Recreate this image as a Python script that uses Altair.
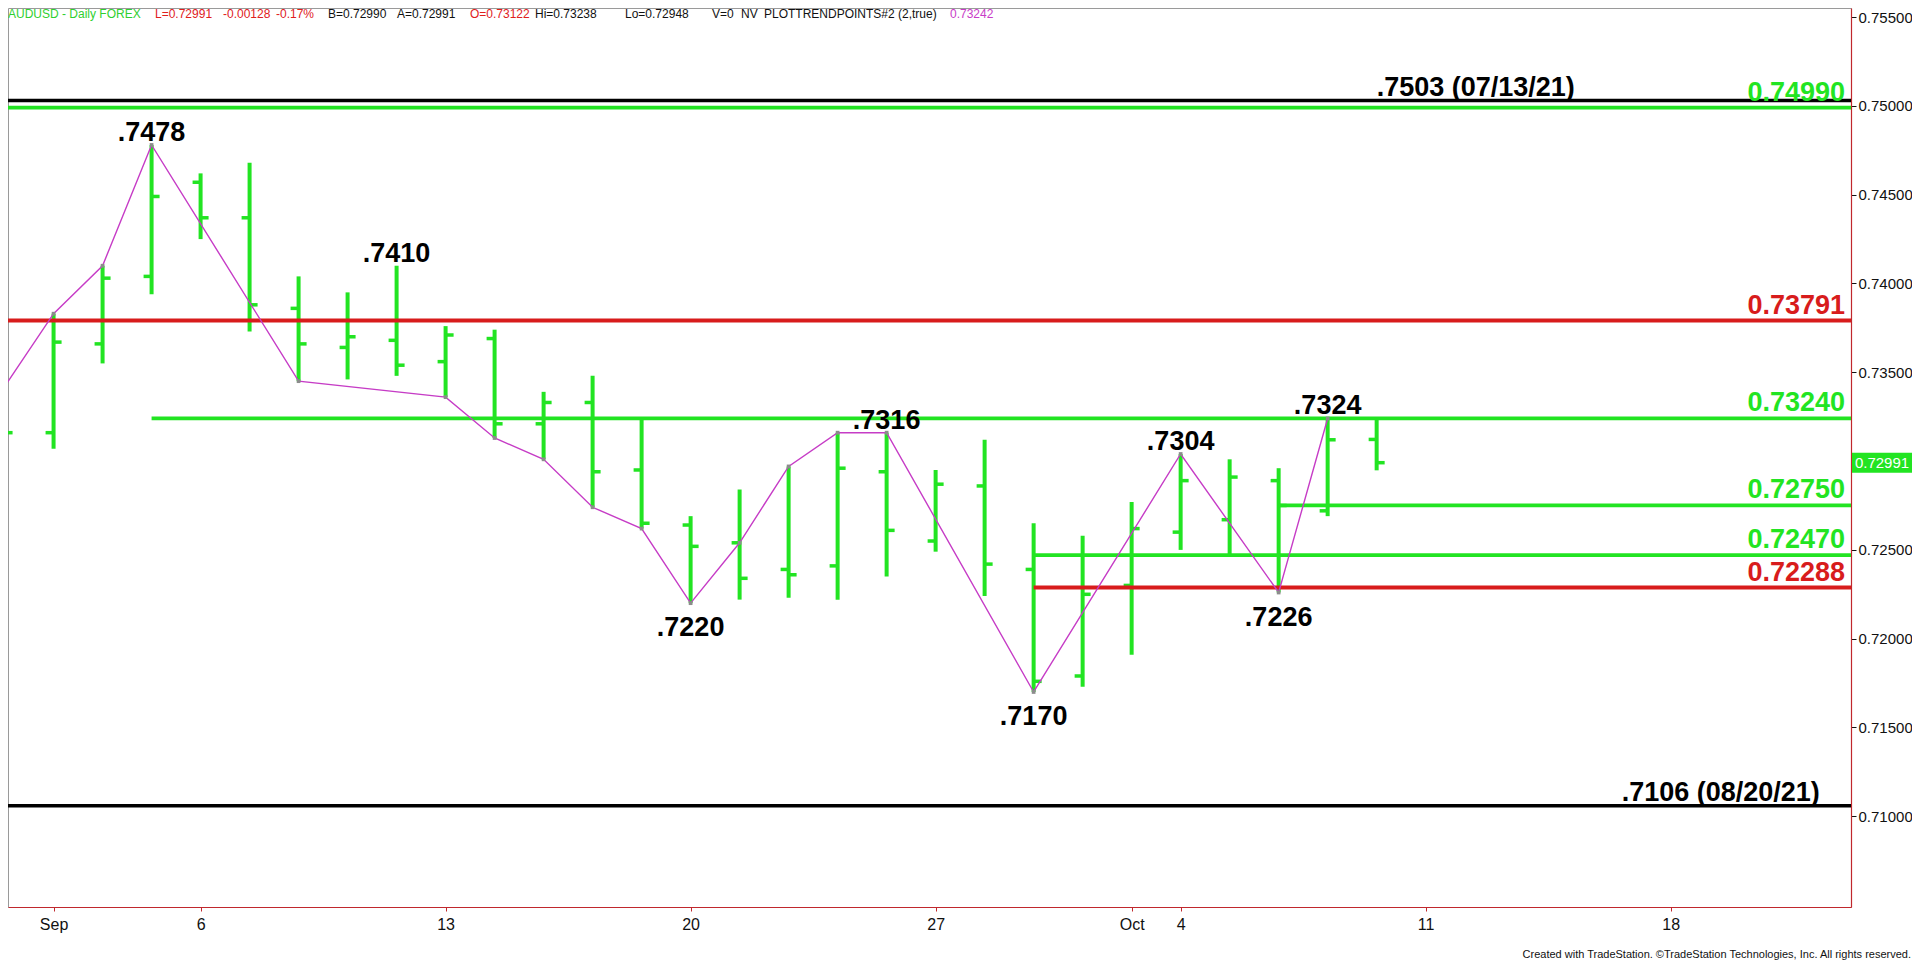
import altair as alt
import pandas as pd
import numpy as np

# ---------------- data ----------------
dates = ["2021-08-31", "2021-09-01", "2021-09-02", "2021-09-03", "2021-09-06", "2021-09-07",
         "2021-09-08", "2021-09-09", "2021-09-10", "2021-09-13", "2021-09-14", "2021-09-15",
         "2021-09-16", "2021-09-17", "2021-09-20", "2021-09-21", "2021-09-22", "2021-09-23",
         "2021-09-24", "2021-09-27", "2021-09-28", "2021-09-29", "2021-09-30", "2021-10-01",
         "2021-10-04", "2021-10-05", "2021-10-06", "2021-10-07", "2021-10-08"]
opens = [0.7290, 0.7316, 0.7366, 0.7404, 0.7457, 0.7437, 0.7386, 0.7364, 0.7368, 0.7356,
         0.7369, 0.7321, 0.7333, 0.7295, 0.7264, 0.7254, 0.7239, 0.7241, 0.7294, 0.7255,
         0.7286, 0.7239, 0.7179, 0.7230, 0.7260, 0.7267, 0.7289, 0.7272, 0.73122]
highs = [0.7342, 0.7383, 0.7410, 0.7478, 0.7462, 0.7468, 0.7404, 0.7395, 0.7410, 0.7376,
         0.7374, 0.7339, 0.7348, 0.7324, 0.7269, 0.7284, 0.7297, 0.7316, 0.7316, 0.7295,
         0.7312, 0.7265, 0.7258, 0.7277, 0.7304, 0.7301, 0.7296, 0.7324, 0.73238]
lows = [0.7287, 0.7307, 0.7355, 0.7394, 0.7425, 0.7373, 0.7345, 0.7346, 0.7348, 0.7336,
        0.7313, 0.7301, 0.7274, 0.7262, 0.7220, 0.7222, 0.7223, 0.7222, 0.7235, 0.7249,
        0.7224, 0.7170, 0.7173, 0.7191, 0.7250, 0.7246, 0.7226, 0.7269, 0.72948]
closes = [0.7316, 0.7367, 0.7403, 0.7449, 0.7437, 0.7388, 0.7366, 0.7370, 0.7354, 0.7371,
          0.7321, 0.7333, 0.7294, 0.7265, 0.7252, 0.7234, 0.7236, 0.7296, 0.7261, 0.7287,
          0.7242, 0.7176, 0.7225, 0.7262, 0.7289, 0.7291, 0.7275, 0.7312, 0.72991]

trend_dates = ["2021-08-31", "2021-09-01", "2021-09-02", "2021-09-03", "2021-09-08",
               "2021-09-13", "2021-09-14", "2021-09-15", "2021-09-16", "2021-09-17",
               "2021-09-20", "2021-09-21", "2021-09-22", "2021-09-23", "2021-09-24",
               "2021-09-29", "2021-10-04", "2021-10-06", "2021-10-07"]
trend_values = [0.7342, 0.7383, 0.7410, 0.7478, 0.7345, 0.7336, 0.7313, 0.7301, 0.7274,
                0.7262, 0.7220, 0.7254, 0.7297, 0.7316, 0.7316, 0.7170, 0.7304, 0.7226, 0.7324]

level_values = [0.7503, 0.7499, 0.73791, 0.7324, 0.7275, 0.7247, 0.72288, 0.7106]
level_texts = [".7503 (07/13/21)", "0.74990", "0.73791", "0.73240", "0.72750", "0.72470",
               "0.72288", ".7106 (08/20/21)"]
level_starts = ["", "", "", "2021-09-03", "2021-10-06", "2021-09-29", "2021-09-29", ""]
level_kinds = ["history", "green", "red", "green", "green", "green", "red", "history"]
history_label_dates = ["2021-10-08", "", "", "", "", "", "", "2021-10-15"]

swing_dates = ["2021-09-03", "2021-09-10", "2021-09-24", "2021-10-04", "2021-10-07",
               "2021-09-20", "2021-09-29", "2021-10-06"]
swing_values = [0.7478, 0.7410, 0.7316, 0.7304, 0.7324, 0.7220, 0.7170, 0.7226]
swing_texts = [".7478", ".7410", ".7316", ".7304", ".7324", ".7220", ".7170", ".7226"]
swing_sides = ["high", "high", "high", "high", "high", "low", "low", "low"]

tick_dates = ["2021-09-01", "2021-09-06", "2021-09-13", "2021-09-20", "2021-09-27",
              "2021-10-01", "2021-10-04", "2021-10-11", "2021-10-18"]
tick_labels = ["Sep", "6", "13", "20", "27", "Oct", "4", "11", "18"]

header_tokens = ["AUDUSD - Daily  FOREX", "L=0.72991", "-0.00128", "-0.17%", "B=0.72990",
                 "A=0.72991", "O=0.73122", "Hi=0.73238", "Lo=0.72948", "V=0", "NV",
                 "PLOTTRENDPOINTS#2 (2,true)", "0.73242"]
header_kinds = ["green", "red", "red", "red", "black", "black", "red", "black", "black",
                "black", "black", "black", "magenta"]
footer_text = "Created with TradeStation. \u00a9TradeStation Technologies, Inc. All rights reserved."

# ---------------- styling / layout ----------------
GREEN = "#22e422"
RED = "#d81c1c"
MAGENTA = "#c63cc6"
AXIS_RED = "#c0282d"
FONT = "Liberation Sans"
W, H = 1843, 899
PAD_R, PAD_B = 61, 54
X_DOM = [-0.93, 36.68]
Y_DOM = [0.704893, 0.755512]
header_x = [0, 147, 215, 268, 320, 389, 462, 527, 617, 704, 733, 756, 942]
header_colors = {"green": "#2fcf2f", "red": "#e0201c", "black": "#111111", "magenta": "#c83cc8"}


def day_index(d):
    return int(np.busday_count("2021-09-01", d))


bars = pd.DataFrame({"date": dates, "open": opens, "high": highs, "low": lows, "close": closes})
bars["i"] = [day_index(d) for d in dates]

trend = pd.DataFrame({"i": [day_index(d) for d in trend_dates], "v": trend_values})

levels = pd.DataFrame({
    "value": level_values, "text": level_texts, "kind": level_kinds,
    "xs": [day_index(d) if d else -5 for d in level_starts],
    "xe": [60] * len(level_values),
    "lx": [day_index(d) if d else None for d in history_label_dates],
})
swings = pd.DataFrame({"i": [day_index(d) for d in swing_dates], "v": swing_values,
                       "text": swing_texts, "side": swing_sides})

tick_idx = [day_index(d) for d in tick_dates]
label_expr = "''"
for ti, tl in reversed(list(zip(tick_idx, tick_labels))):
    label_expr = f"datum.value == {ti} ? '{tl}' : ({label_expr})"

X_SCALE = alt.Scale(domain=X_DOM, nice=False, zero=False)
Y_SCALE = alt.Scale(domain=Y_DOM, nice=False, zero=False)
X_AXIS = alt.Axis(values=tick_idx, labelExpr=label_expr, grid=False, title=None,
                  domainColor=AXIS_RED, tickColor=AXIS_RED, tickSize=4,
                  labelFontSize=16, labelColor="#111", labelPadding=5,
                  labelFont=FONT, domainWidth=1.2)
Y_AXIS = alt.Axis(orient="right", values=[round(0.710 + 0.005 * k, 3) for k in range(10)],
                  format=".5f", grid=False, title=None, domainColor=AXIS_RED,
                  tickColor="#111", tickSize=5, labelFontSize=15, labelColor="#111",
                  labelPadding=2, labelFont=FONT, domainWidth=1.2)


def xq(f):
    return alt.X(f, type="quantitative", scale=X_SCALE, axis=X_AXIS, title=None)


def yq(f):
    return alt.Y(f, type="quantitative", scale=Y_SCALE, axis=Y_AXIS, title=None)


kind_color = alt.Color("kind:N", legend=None, scale=alt.Scale(
    domain=["history", "green", "red"], range=["#000000", GREEN, RED]))

base_bars = alt.Chart(bars)
bar_rules = base_bars.mark_rule(strokeWidth=4, color=GREEN, clip=True).encode(
    x=xq("i"), y=yq("low"), y2="high:Q")
open_ticks = base_bars.mark_tick(orient="horizontal", xOffset=-4, size=8, thickness=3.5,
                                 color=GREEN, clip=True, opacity=1).encode(x=xq("i"), y=yq("open"))
close_ticks = base_bars.mark_tick(orient="horizontal", xOffset=4, size=8, thickness=3.5,
                                  color=GREEN, clip=True, opacity=1).encode(x=xq("i"), y=yq("close"))

level_rules = alt.Chart(levels).mark_rule(clip=True).encode(
    x=xq("xs"), x2="xe:Q", y=yq("value"), color=kind_color,
    strokeWidth=alt.StrokeWidth("kind:N", legend=None, scale=alt.Scale(
        domain=["history", "green", "red"], range=[3.5, 4, 4])),
)
level_labels = alt.Chart(levels).transform_filter("datum.kind != 'history'").mark_text(
    align="right", baseline="alphabetic", dx=-6, dy=-7, fontSize=27, fontWeight="bold",
    font=FONT).encode(x=alt.value(W), y=yq("value"), text="text:N", color=kind_color)
history_labels = alt.Chart(levels).transform_filter("datum.kind == 'history'").mark_text(
    align="left", baseline="alphabetic", dy=-5, fontSize=27, fontWeight="bold", font=FONT,
    color="#000").encode(x=xq("lx"), y=yq("value"), text="text:N")

trend_line = alt.Chart(trend).mark_line(color=MAGENTA, strokeWidth=1.4, clip=True).encode(
    x=xq("i"), y=yq("v"))
trend_pts = alt.Chart(trend).mark_square(size=14, color="#8c8c8c", opacity=1, clip=True).encode(
    x=xq("i"), y=yq("v"))

swing_hi = alt.Chart(swings).transform_filter("datum.side == 'high'").mark_text(
    align="center", baseline="alphabetic", dy=-4, fontSize=27, fontWeight="bold", font=FONT,
    color="#000").encode(x=xq("i"), y=yq("v"), text="text:N")
swing_lo = alt.Chart(swings).transform_filter("datum.side == 'low'").mark_text(
    align="center", baseline="top", dy=12, fontSize=27, fontWeight="bold", font=FONT,
    color="#000").encode(x=xq("i"), y=yq("v"), text="text:N")

last = bars.iloc[[-1]]
tag_rule = alt.Chart(last).mark_rule(strokeWidth=20, color=GREEN).encode(
    x=alt.value(W + 1), x2=alt.value(W + PAD_R), y=yq("close"))
tag_text = alt.Chart(last).mark_text(align="center", baseline="middle", fontSize=15,
                                     font=FONT, color="#ffffff").encode(
    x=alt.value(W + 31), y=yq("close"), text=alt.Text("close:Q", format=".5f"))

one = alt.Data(values=[{"k": 1}])
header_layers = []
for tok, kind, hx in zip(header_tokens, header_kinds, header_x):
    header_layers.append(
        alt.Chart(one).mark_text(align="left", baseline="alphabetic", fontSize=12, font=FONT,
                                 color=header_colors[kind]).encode(
            x=alt.value(hx), y=alt.value(10), text=alt.value(tok)))
footer = alt.Chart(one).mark_text(align="right", baseline="alphabetic", fontSize=11,
                                  font=FONT, color="#111").encode(
    x=alt.value(W + PAD_R - 1), y=alt.value(H + 51), text=alt.value(footer_text))

chart = alt.layer(
    bar_rules, open_ticks, close_ticks, level_rules, trend_line, trend_pts,
    level_labels, history_labels, swing_hi, swing_lo, tag_rule, tag_text,
    *header_layers, footer,
).properties(
    width=W, height=H,
    autosize=alt.AutoSizeParams(type="none"),
    padding={"left": 0, "top": 0, "right": PAD_R, "bottom": PAD_B},
    background="#ffffff",
).configure_view(stroke="#9a9a9a", strokeWidth=1)

chart.save("out.html", embed_options={"renderer": "svg", "actions": False})
